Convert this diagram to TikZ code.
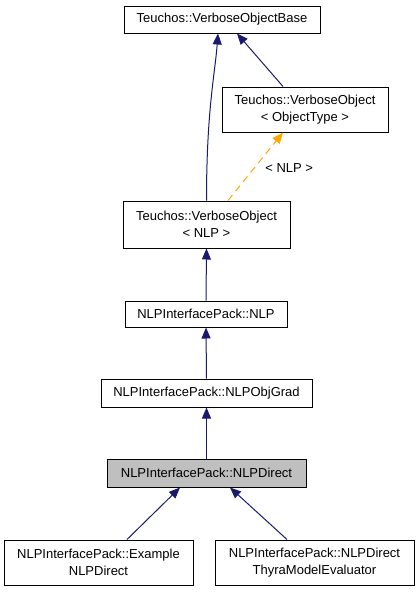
\documentclass[tikz,border=0pt]{standalone}
\usepackage{fontspec}
\setmainfont{Liberation Sans}
\usetikzlibrary{arrows.meta}
\definecolor{edgeblue}{HTML}{191970}
\definecolor{tmplorange}{HTML}{FFA500}
\definecolor{curgray}{HTML}{BFBFBF}
\begin{document}
\begin{tikzpicture}[
    x=1pt, y=-1pt,
    every node/.style={font=\fontsize{13}{16.5}\selectfont},
    klass/.style={rectangle, draw, line width=1pt, fill=white, inner sep=0pt, align=center},
    current/.style={klass, fill=curgray},
    derived/.style={-{Triangle[length=11pt, width=9pt]}, line width=1pt, color=edgeblue},
    template/.style={-{Triangle[length=11pt, width=9pt]}, dashed, dash pattern=on 7pt off 5pt, line width=1pt, color=tmplorange}
]
\useasboundingbox (0,0) rectangle (419,592);

% Teuchos classes
\node[klass, minimum width=196pt, minimum height=27pt] (base) at (222, 19.5) {Teuchos::VerboseObjectBase};
\node[klass, minimum width=166pt, minimum height=45pt] (objtype) at (305, 109.5) {Teuchos::VerboseObject\\ < ObjectType >};
\node[klass, minimum width=167pt, minimum height=47pt] (vnlp) at (206.5, 224.5) {Teuchos::VerboseObject\\ < NLP >};

% NLPInterfacePack classes
\node[klass, minimum width=162pt, minimum height=26pt] (nlp) at (206, 314) {NLPInterfacePack::NLP};
\node[klass, minimum width=211pt, minimum height=28pt] (objgrad) at (206.5, 393) {NLPInterfacePack::NLPObjGrad};
\node[current, minimum width=199pt, minimum height=28pt] (direct) at (206.5, 473) {NLPInterfacePack::NLPDirect};
\node[klass, minimum width=189pt, minimum height=45pt] (example) at (98.5, 562.5) {NLPInterfacePack::Example\\ NLPDirect};
\node[klass, minimum width=199pt, minimum height=45pt] (thyra) at (314.5, 562.5) {NLPInterfacePack::NLPDirect\\ ThyraModelEvaluator};

% inheritance
\draw[derived] (objtype.north -| 283, 0) -- ([xshift=15pt]base.south);
\draw[derived] (vnlp.north) .. controls +(0,-90) and +(-3,40) .. ([xshift=-4pt]base.south);
\draw[template] ([xshift=21.5pt]vnlp.north) -- node[right, text=black, xshift=6pt, yshift=-2pt] {< NLP >} ([xshift=-22pt]objtype.south);
\draw[derived] (nlp.north) -- (vnlp.south);
\draw[derived] (objgrad.north) -- (nlp.south);
\draw[derived] (direct.north) -- (objgrad.south);
\draw[derived] ([xshift=28.5pt]example.north) -- ([xshift=-26.5pt]direct.south);
\draw[derived] ([xshift=-27.5pt]thyra.north) -- ([xshift=23.5pt]direct.south);

\end{tikzpicture}
\end{document}
